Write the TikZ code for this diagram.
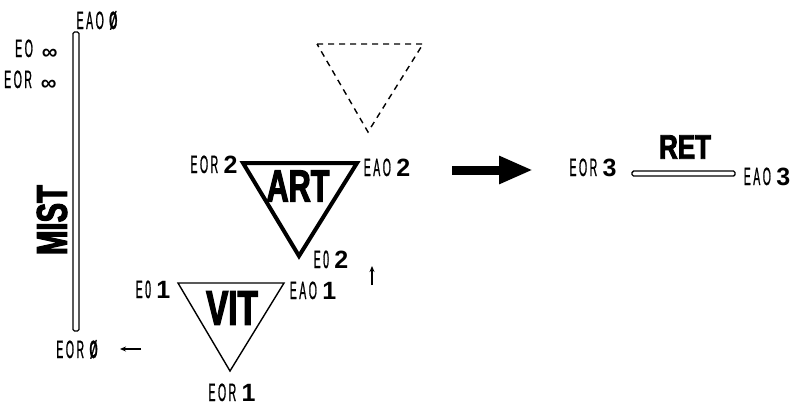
\documentclass[tikz,border=0pt]{standalone}
\usepackage{fontspec}
\usetikzlibrary{arrows.meta}
% condensed face for the small state labels, plain face for their digits,
% heavy condensed face for the compartment names
\newfontfamily\labfont[FakeStretch=0.42, FakeBold=0.8, LetterSpace=10]{Liberation Sans}
\newfontfamily\numfont{Liberation Sans}
\newfontfamily\heavyfont[FakeStretch=0.68, FakeBold=2.5]{Liberation Sans Bold}
\newcommand{\dg}[1]{{\numfont\bfseries #1}}
\newcommand{\zr}{{\bfseries Ø}}
\newcommand{\infy}{\hspace{9pt}\raisebox{-2.5pt}{\numfont\bfseries\fontsize{22}{22}\selectfont ∞}}
\tikzset{
  lab/.style={font=\labfont\fontsize{25}{25}\selectfont, inner sep=0pt},
  heavy/.style={font=\heavyfont\fontsize{#1}{#1}\selectfont, inner sep=0pt},
  thinline/.style={line width=1.4pt, line join=miter},
  barline/.style={line width=1.4pt, rounded corners=1.5pt},
  small arrow/.style={line width=1.1pt, -{Stealth[length=6pt,width=5pt]}},
}
\begin{document}
\begin{tikzpicture}[x=1pt, y=-1pt]
\useasboundingbox (0,0) rectangle (797,407);

% ---- MIST: vertical bar
\coordinate (mistA) at (73,32);
\coordinate (mistB) at (79,331);
\draw[barline] (mistA) rectangle (mistB);
\node[heavy=43, rotate=90] (mist) at (52,220) {MIST};
\node[lab, anchor=base] (eao0) at (97,29) {EAO \zr};
\node[lab, anchor=base west] (eoinf) at (15,57) {EO\infy};
\node[lab, anchor=base west] (eorinf) at (4,88) {EOR\infy};
\node[lab, anchor=base] (eor0) at (77,358) {EOR \zr};
\coordinate (la1) at (141,349);
\coordinate (la2) at (120,349);
\draw[small arrow] (la1) -- (la2);

% ---- VIT: thin triangle
\coordinate (vitL) at (178,283);
\coordinate (vitR) at (284,283);
\coordinate (vitB) at (230,371);
\draw[thinline] (vitL) -- (vitR) -- (vitB) -- cycle;
\node[heavy=49] (vit) at (232,308) {VIT};
\node[lab, anchor=base] (eo1) at (153,298) {E0 \dg{1}};
\node[lab, anchor=base] (eao1) at (313,299) {EAO \dg{1}};
\node[lab, anchor=base] (eor1) at (232,401) {EOR \dg{1}};

% ---- ART: heavy triangle
\coordinate (artL) at (243,163);
\coordinate (artR) at (357,163);
\coordinate (artB) at (299,256);
\draw[line width=4pt, line join=miter] (artL) -- (artR) -- (artB) -- cycle;
\node[heavy=45] (art) at (298,186) {ART};
\node[lab, anchor=base] (eor2) at (214,173) {EOR \dg{2}};
\node[lab, anchor=base] (eao2) at (387,176) {EAO \dg{2}};
\node[lab, anchor=base] (eo2) at (331,268) {E0 \dg{2}};
\coordinate (ua1) at (372,285);
\coordinate (ua2) at (372,266);
\draw[small arrow] (ua1) -- (ua2);

% ---- dashed triangle above ART
\coordinate (dsL) at (317,44);
\coordinate (dsR) at (423,44);
\coordinate (dsB) at (368,132);
\draw[line width=1.4pt, dash pattern=on 6pt off 5pt] (dsL) -- (dsR) -- (dsB) -- cycle;

% ---- transition arrow
\coordinate (bigA) at (452,170);
\coordinate (bigB) at (533,170);
\draw[line width=9pt, -{Triangle[length=34pt 0, width=26pt 0]}] (bigA) -- (bigB);

% ---- RET: horizontal bar
\coordinate (retA) at (632,171);
\coordinate (retB) at (735,176);
\draw[barline] (retA) rectangle (retB);
\node[heavy=34] (ret) at (685,147) {\scalebox{1.12}[1]{RET}};
\node[lab, anchor=base] (eor3) at (593,176) {EOR \dg{3}};
\node[lab, anchor=base] (eao3) at (767,185) {EAO \dg{3}};
\end{tikzpicture}
\end{document}
